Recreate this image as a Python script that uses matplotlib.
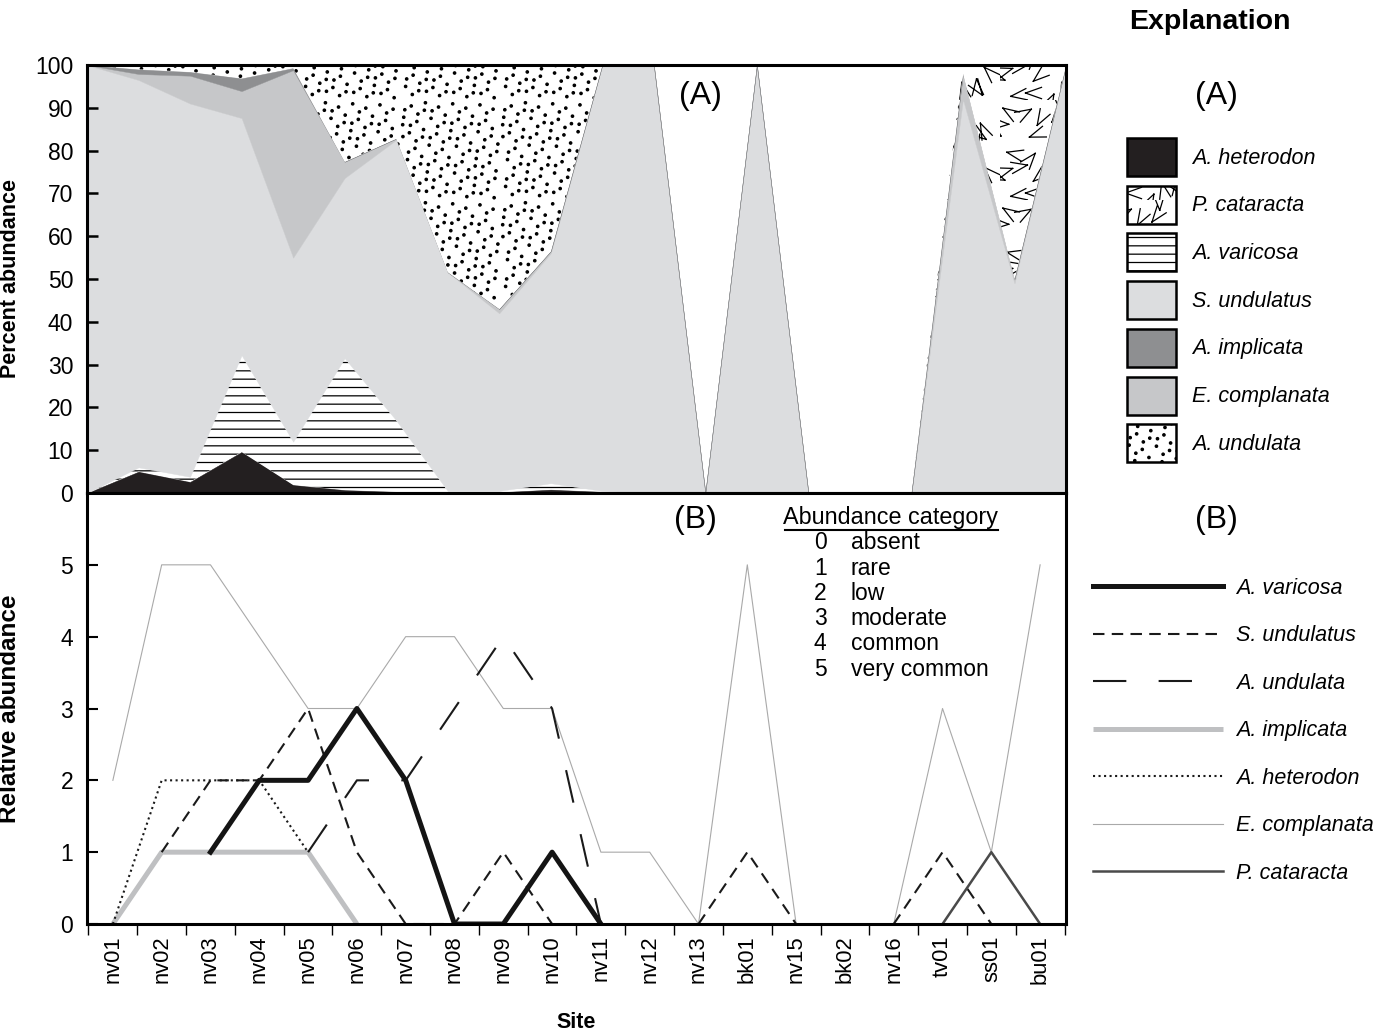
import numpy as np
import matplotlib
matplotlib.use("Agg")
import matplotlib.pyplot as plt
import matplotlib.hatch as mhatch
from matplotlib.path import Path
from matplotlib.patches import Patch
from matplotlib.lines import Line2D

nan = np.nan

sites = ["nv01", "nv02", "nv03", "nv04", "nv05", "nv06", "nv07", "nv08", "nv09", "nv10",
         "nv11", "nv12", "nv13", "bk01", "nv15", "bk02", "nv16", "tv01", "ss01", "bu01"]

# panel A: percent abundance at each site (stacked)
pct_heterodon = [0, 5.0, 2.6, 9.6, 1.9, 0.7, 0.3, 0.2, 0.2, 0.8, 0.3, 0, 0, 0, 0, 0, 0, 0, 0, 0]
pct_varicosa = [0, 1.0, 1.2, 22.6, 10.1, 30.8, 16.7, 0.3, 0.3, 1.5, 0.2, 0, 0, 0, 0, 0, 0, 0, 0, 0]
pct_s_undulatus = [100, 90.5, 87.2, 55.4, 43.0, 42.1, 65.5, 51.1, 41.5, 53.7, 99.5, 100, 0, 100, 0, 0, 0, 92, 49, 100]
pct_complanata = [0, 1.4, 6.5, 6.3, 43.8, 3.8, 0.3, 0, 1.0, 0.5, 0, 0, 0, 0, 0, 0, 0, 6, 1, 0]
pct_implicata = [0, 1.1, 0.9, 3.0, 0.5, 0, 0, 0, 0, 0, 0, 0, 0, 0, 0, 0, 0, 0, 0, 0]
pct_a_undulata = [0, 1.0, 1.6, 3.1, 0.7, 22.6, 17.2, 48.4, 57.0, 43.5, 0, 0, 0, 0, 0, 0, 0, 0, 0, 0]
pct_cataracta = [0, 0, 0, 0, 0, 0, 0, 0, 0, 0, 0, 0, 0, 0, 0, 0, 0, 2, 50, 0]

# panel B: abundance category (nan = no line drawn)
rel_varicosa = [nan, nan, 1, 2, 2, 3, 2, 0, 0, 1, 0, nan, nan, nan, nan, nan, nan, nan, nan, nan]
rel_s_undulatus = [nan, 1, 2, 2, 3, 1, 0, 0, 1, 0, nan, nan, 0, 1, 0, nan, 0, 1, 0, nan]
rel_a_undulata = [nan, nan, nan, nan, 1, 2, 2, 3, 4, 3, 0, nan, nan, nan, nan, nan, nan, nan, nan, nan]
rel_implicata = [0, 1, 1, 1, 1, 0, nan, nan, nan, nan, nan, nan, nan, nan, nan, nan, nan, nan, nan, nan]
rel_heterodon = [0, 2, 2, 2, 1, nan, nan, nan, nan, nan, nan, nan, nan, nan, nan, nan, nan, nan, nan, nan]
rel_complanata = [2, 5, 5, 4, 3, 3, 4, 4, 3, 3, 1, 1, 0, 5, 0, nan, 0, 3, 1, 5]
rel_cataracta = [nan, nan, nan, nan, nan, nan, nan, nan, nan, nan, nan, nan, nan, nan, nan, nan, nan, 0, 1, 0]

categories = [0, 1, 2, 3, 4, 5]
category_names = ["absent", "rare", "low", "moderate", "common", "very common"]


# quasi random points for the stipple / V textures
def r2_points(n):
    k = np.arange(1, n + 1)
    return np.column_stack(((0.5 + k * 0.7548776662) % 1, (0.5 + k * 0.5698402910) % 1))


class Stipple(mhatch.HatchPatternBase):
    # scattered dots, used for 'o'
    def __init__(self, hatch, density):
        self.n = 105 if 'o' in hatch else 0
        circ = Path.unit_circle()
        self.cv, self.cc = circ.vertices, circ.codes
        self.num_vertices = self.n * len(self.cv)

    def set_vertices_and_codes(self, vertices, codes):
        m = len(self.cv)
        pts = r2_points(self.n) * 0.96 + 0.02
        for i, (x, y) in enumerate(pts):
            vertices[i * m:(i + 1) * m] = self.cv * 0.012 + (x, y)
            codes[i * m:(i + 1) * m] = self.cc


class VMarks(mhatch.HatchPatternBase):
    # little scattered V strokes, used for '*'
    def __init__(self, hatch, density):
        self.n = 26 if '*' in hatch else 0
        self.num_vertices = self.n * 4

    def set_vertices_and_codes(self, vertices, codes):
        pts = r2_points(self.n)
        arm, half = 0.17, 0.34
        for i, (x, y) in enumerate(pts):
            a = i * 2.39996
            p1 = (x + arm * np.cos(a - half), y + arm * np.sin(a - half))
            p2 = (x + arm * np.cos(a + half), y + arm * np.sin(a + half))
            vertices[4 * i:4 * i + 4] = [p1, (x, y), (x, y), p2]
            codes[4 * i:4 * i + 4] = [Path.MOVETO, Path.LINETO, Path.MOVETO, Path.LINETO]


mhatch._hatch_types[mhatch._hatch_types.index(mhatch.SmallCircles)] = Stipple
mhatch._hatch_types[mhatch._hatch_types.index(mhatch.Stars)] = VMarks

plt.rcParams['font.family'] = ['Liberation Sans', 'DejaVu Sans']
plt.rcParams['hatch.linewidth'] = 0.9
plt.rcParams['axes.linewidth'] = 2.2

W, H = 1388, 1034
fig = plt.figure(figsize=(W / 100, H / 100), dpi=100)
axA = fig.add_axes([87 / W, 1 - 493 / H, 979 / W, 428 / H])
axB = fig.add_axes([87 / W, 1 - 924 / H, 979 / W, 431 / H])

# ---- panel A
names_A = ["A. heterodon", "A. varicosa", "S. undulatus", "E. complanata",
           "A. implicata", "A. undulata", "P. cataracta"]
layers = [pct_heterodon, pct_varicosa, pct_s_undulatus, pct_complanata,
          pct_implicata, pct_a_undulata, pct_cataracta]
faces = ['#231f20', 'white', '#dcdddf', '#c6c7c9', '#8e8f91', 'white', 'white']
hatches = [None, '--', None, None, None, 'o', '*']

xA = np.arange(len(sites))
polys = axA.stackplot(xA, layers, colors=faces)
for p, h, c in zip(polys, hatches, faces):
    if h:
        p.set_hatch(h)
        p.set_edgecolor('black')
        p.set_linewidth(0)
    else:
        p.set_edgecolor(c)
        p.set_linewidth(0.3)

axA.set_xlim(0, len(sites) - 1)
axA.set_ylim(0, 100)
axA.set_xticks([])
axA.set_yticks(np.arange(0, 101, 10))
axA.tick_params(axis='y', direction='in', length=8, width=1.8, pad=10, labelsize=16.5)
axA.set_ylabel("Percent abundance", fontsize=15.5, fontweight='bold')
axA.yaxis.set_label_coords(-0.067, 0.5)
axA.text(0.627, 0.928, "(A)", transform=axA.transAxes, fontsize=23, ha='center', va='center')

# ---- panel B
line_styles = {
    "E. complanata": dict(color='#a9a9a9', lw=0.8),
    "A. implicata": dict(color='#bfc0c2', lw=3.6, solid_capstyle='butt'),
    "A. heterodon": dict(color='#1a1a1a', lw=1.5, ls=':'),
    "S. undulatus": dict(color='#1a1a1a', lw=1.5, dashes=(5.5, 3.5)),
    "A. undulata": dict(color='#1a1a1a', lw=1.5, dashes=(16, 15.5)),
    "A. varicosa": dict(color='#141414', lw=3.6),
    "P. cataracta": dict(color='#4a4a4a', lw=1.8),
}
rel_series = {
    "E. complanata": rel_complanata,
    "A. implicata": rel_implicata,
    "A. heterodon": rel_heterodon,
    "S. undulatus": rel_s_undulatus,
    "A. undulata": rel_a_undulata,
    "A. varicosa": rel_varicosa,
    "P. cataracta": rel_cataracta,
}
xB = np.arange(len(sites))
for name, vals in rel_series.items():
    axB.plot(xB, vals, **line_styles[name])

axB.set_xlim(-0.53, len(sites) - 0.47)
axB.set_ylim(0, 6)
axB.set_yticks(categories)
axB.tick_params(axis='y', direction='in', length=8, width=1.5, pad=10, labelsize=16.5)
axB.set_xticks(xB)
axB.set_xticklabels(sites, rotation=90, va='top', ha='center')
axB.set_xticks(np.arange(-0.5, len(sites), 1), minor=True)
axB.tick_params(axis='x', which='major', length=0, pad=8, labelsize=15.8)
axB.tick_params(axis='x', which='minor', direction='out', length=8, width=1.0)
axB.set_ylabel("Relative abundance", fontsize=17.5, fontweight='bold')
axB.yaxis.set_label_coords(-0.067, 0.5)
axB.set_xlabel("Site", fontsize=15.5, fontweight='bold')
axB.xaxis.set_label_coords(0.5, -0.205)
axB.text(0.621, 0.937, "(B)", transform=axB.transAxes, fontsize=23, ha='center', va='center')

# abundance category key
axB.text(0.821, 0.944, "Abundance category", transform=axB.transAxes, fontsize=16.8,
         ha='center', va='center')
axB.plot([0.713, 0.931], [0.914, 0.914], transform=axB.transAxes, color='black',
         lw=1.5, clip_on=False)
for k, (c, nm) in enumerate(zip(categories, category_names)):
    yy = 0.884 - k * 0.0585
    axB.text(0.749, yy, str(c), transform=axB.transAxes, fontsize=16.5, ha='center', va='center')
    axB.text(0.780, yy, nm, transform=axB.transAxes, fontsize=16.5, ha='left', va='center')

# ---- explanation
fig.text(1210 / W, 1 - 22 / H, "Explanation", fontsize=20.5, fontweight='bold', ha='center', va='center')
fig.text(1216 / W, 1 - 96 / H, "(A)", fontsize=23, ha='center', va='center')
fig.text(1216 / W, 1 - 520 / H, "(B)", fontsize=23, ha='center', va='center')

legA_order = ["A. heterodon", "P. cataracta", "A. varicosa", "S. undulatus",
              "A. implicata", "E. complanata", "A. undulata"]
handlesA = []
for nm in legA_order:
    i = names_A.index(nm)
    handlesA.append(Patch(facecolor=faces[i], edgecolor='black', lw=1.8, hatch=hatches[i]))
fig.legend(handlesA, legA_order, loc='upper left', bbox_to_anchor=(1127 / W, 1 - 138 / H),
           frameon=False, borderpad=0, borderaxespad=0, handlelength=2.28, handleheight=2.34,
           handletextpad=0.72, labelspacing=0.45, prop=dict(style='italic', size=15.5))

legB_order = ["A. varicosa", "S. undulatus", "A. undulata", "A. implicata",
              "A. heterodon", "E. complanata", "P. cataracta"]
handlesB = [Line2D([], [], **line_styles[nm]) for nm in legB_order]
fig.legend(handlesB, legB_order, loc='upper left', bbox_to_anchor=(1093 / W, 1 - 578 / H),
           frameon=False, borderpad=0, borderaxespad=0, handlelength=6.05,
           handletextpad=0.6, labelspacing=1.23, prop=dict(style='italic', size=15.5))

fig.savefig("out.png", dpi=100)
